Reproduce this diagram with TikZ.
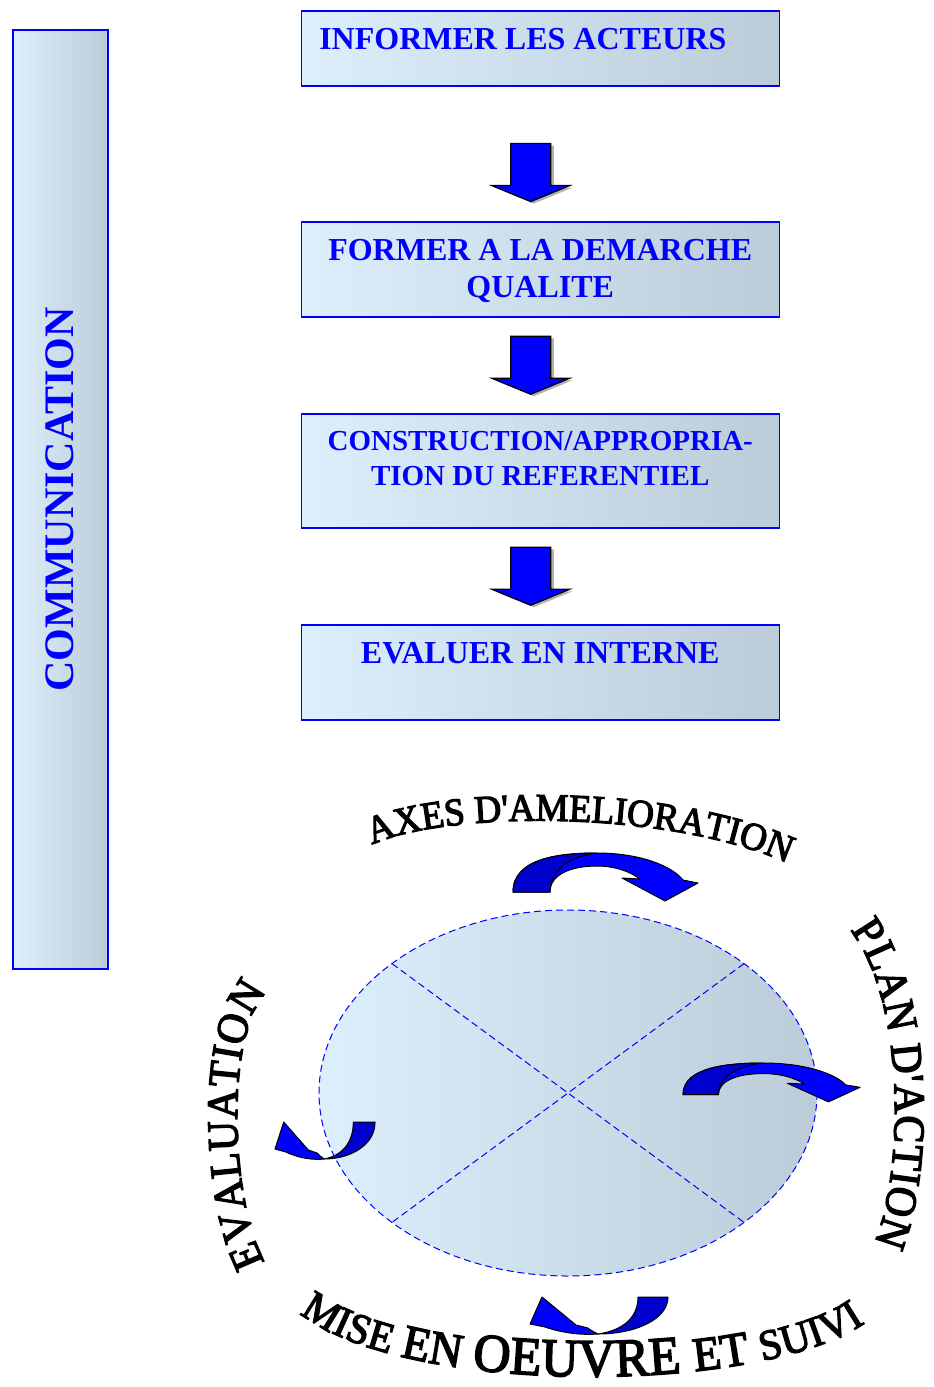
\documentclass[tikz,border=0pt]{standalone}
\usepackage{fontspec}
\setmainfont{Liberation Serif}
\newfontfamily\wordart{Liberation Serif}[Ligatures=ResetAll, FakeStretch=0.95, FakeBold=3]
\usetikzlibrary{positioning,calc,shapes.geometric,decorations.text}

\definecolor{paleblue}{RGB}{221,239,252}
\definecolor{greyblue}{RGB}{187,204,216}
\definecolor{deepblue}{RGB}{0,0,204}

% fonts for the curved words
\newcommand\artTop{\wordart\fontsize{39}{39}\selectfont}
\newcommand\artSide{\wordart\fontsize{44}{44}\selectfont}
\newcommand\artLeft{\wordart\fontsize{44}{44}\selectfont}
\newcommand\artS{\wordart\fontsize{43}{43}\selectfont}
\newcommand\artM{\wordart\fontsize{48}{48}\selectfont}
\newcommand\artL{\wordart\fontsize{54}{54}\selectfont}
% text of a stage box, set from the top
\newcommand\stagetext[2]{\parbox[c][#1][t]{478pt}{\vspace*{18pt}\centering #2}}

\begin{document}
\begin{tikzpicture}[x=1pt, y=-1pt,
	stage/.style={draw=blue, line width=1.5pt, left color=paleblue, right color=greyblue, inner sep=0pt, anchor=north west, text=blue, font=\fontsize{32}{37}\selectfont\bfseries},
	pdcazone/.style={ellipse, left color=paleblue, right color=greyblue, minimum width=498pt, minimum height=366pt, inner sep=0pt, outer sep=0pt},
	rim/.style={blue, line width=1pt, dash pattern=on 7pt off 4pt},
	blockarrow/.style={draw=black, line width=1.2pt, fill=blue},
	arcarrow/.style={draw=black, line width=1pt, line join=round},
	wordart/.style={decorate, decoration={text along path, text align={fit to path}}},
	downarrow/.pic={
		\fill[black!30, shift={(3,2)}] (-20,-29) -- (20,-29) -- (20,13) -- (39,13) -- (0,29) -- (-39,13) -- (-20,13) -- cycle;
		\draw[blockarrow] (-20,-29) -- (20,-29) -- (20,13) -- (39,13) -- (0,29) -- (-39,13) -- (-20,13) -- cycle;
	},
	curvarrow/.pic={
		\draw[arcarrow, fill=blue] (0,39) .. controls (0,5) and (47,0) .. (84,0) .. controls (127,0) and (159,13) .. (170,27) -- (185,30) -- (152,48) -- (109,25) -- (127,26) .. controls (115,17) and (99,13) .. (84,13) .. controls (57,13) and (37,22) .. (37,39) -- cycle;
		\draw[arcarrow, fill=deepblue] (0,39) .. controls (0,5) and (47,0) .. (84,0) .. controls (57,3) and (37,17) .. (37,39) -- cycle;
	},
	curvarrowup/.pic={
		\draw[arcarrow, fill=blue] (12,1) -- (0,28) -- (15,31) .. controls (35,38) and (55,39) .. (68,38) .. controls (64,36) and (60,34) .. (58,32) -- (46,29) -- cycle;
		\draw[arcarrow, fill=deepblue] (108,1) -- (138,1) .. controls (138,24) and (104,38) .. (68,38) .. controls (95,34) and (108,20) .. (108,1) -- cycle;
	}]
	\useasboundingbox (0,0) rectangle (934,1387);

	% the steps
	\node[stage] (comm) at (12,29) {\parbox[c][939pt][c]{95pt}{\centering\rotatebox{90}{\fontsize{42}{42}\selectfont COMMUNICATION}}};
	\node[stage] (inform) at (300.5,10) {\stagetext{75pt}{\raggedright\hspace*{18pt}INFORMER LES ACTEURS}};
	\node[stage] (train) at (300.5,221) {\stagetext{95pt}{FORMER A LA DEMARCHE\\QUALITE}};
	\node[stage, font=\fontsize{29}{35}\selectfont\bfseries] (build) at (300.5,413) {\stagetext{114pt}{CONSTRUCTION/APPROPRIA-\\TION DU REFERENTIEL}};
	\node[stage] (assess) at (300.5,624) {\stagetext{95pt}{EVALUER EN INTERNE}};

	\pic at ($(inform.south)!0.64!(train.north)+(-9.5,0)$) {downarrow};
	\pic at ($(train.south)!0.5!(build.north)+(-9.5,0)$) {downarrow};
	\pic at ($(build.south)!0.5!(assess.north)+(-9.5,0)$) {downarrow};

	% the improvement wheel
	\node[pdcazone] (pdca) at (568,1093) {};
	\draw[rim] (pdca.north west) -- (pdca.south east);
	\draw[rim] (pdca.north east) -- (pdca.south west);

	\pic at (513,853) {curvarrow};
	\pic[xscale=0.957, yscale=0.81] at (683,1063) {curvarrow};
	\pic[xscale=0.725] at (275,1121) {curvarrowup};
	\pic at (530,1296) {curvarrowup};

	\draw[rim] (pdca.center) ellipse [x radius=249, y radius=183];

	\path[wordart, decoration={text={|\artTop|AXES D'AMELIORATION}}] (372,845) .. controls (440,812) and (660,808) .. (785,862);
	\path[wordart, decoration={text={|\artSide|PLAN D'ACTION}}] (850,930) .. controls (905,1000) and (905,1170) .. (874,1243);
	\path[wordart, decoration={text={|\artS|MISE |\artM|EN |\artL|OEUVRE |\artM|ET |\artS|SUIVI}}] (300,1313) .. controls (400,1396) and (760,1396) .. (865,1323);
	\path[wordart, decoration={text={|\artLeft|EVALUATION}}] (265,1262) .. controls (230,1200) and (225,1030) .. (268,992);
\end{tikzpicture}
\end{document}
